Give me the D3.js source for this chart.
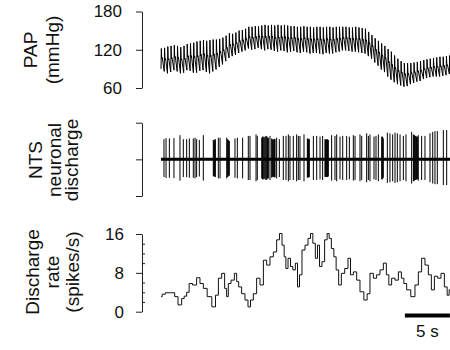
<!DOCTYPE html>
<html><head><meta charset="utf-8">
<script src="https://cdn.jsdelivr.net/npm/d3@7"></script>
<style>
html,body{margin:0;padding:0;background:#fff;}
svg{display:block;font-family:"Liberation Sans",Arial,sans-serif;}
</style></head><body>
<svg id="chart" width="450" height="350"></svg>
<script>
// ---- Pulsatile arterial pressure, one systolic / diastolic pair per beat (mmHg) ----
const beatInterval = 0.36; // s
const papSystolic = [
  122,123,125,126,127,126,124,126,129,130,
  131,133,134,135,134,135,136,136,137,139,
  142,146,145,147,150,151,153,156,156,157,
  157,158,159,158,159,158,159,158,159,158,
  157,157,156,156,157,156,156,155,156,156,
  155,156,156,155,156,156,156,156,155,155,
  156,155,154,153,148,143,138,134,130,126,
  121,117,111,106,102,99,99,99,100,101,
  102,104,105,106,107,108,109,109,110,111
];
const papDiastolic = [
  90,86,83,85,88,86,83,84,88,87,
  84,84,87,88,85,83,86,89,93,97,
  102,107,110,112,115,117,119,122,120,121,
  123,121,119,121,120,118,117,119,118,116,
  117,118,116,115,117,116,114,115,115,114,
  113,115,114,114,116,117,119,119,118,117,
  117,116,115,114,110,106,100,95,89,85,
  78,73,69,66,64,62,63,66,68,70,
  71,74,76,77,78,78,78,79,80,82
];
const papTicks = [60, 120, 180];

// ---- NTS unit: spike times (s) and relative spike amplitude ----
const spikeTimes = [
  0.33,0.56,0.93,1.44,2.11,2.48,2.85,3.15,3.59,3.78,3.96,4.26,4.70,
  5.81,5.87,5.93,5.98,6.04,6.37,6.56,7.30,7.40,7.48,7.54,7.59,8.22,8.48,9.07,
  9.70,9.89,10.56,10.70,11.19,11.28,11.37,11.47,11.56,11.65,11.74,11.84,11.93,
  12.11,12.30,12.35,12.41,12.48,12.56,12.62,12.67,12.85,13.15,13.59,13.89,14.15,
  14.33,14.70,15.07,15.26,15.44,15.89,16.26,16.31,16.37,16.42,16.48,16.93,17.30,
  17.67,17.96,18.22,18.27,18.33,18.40,18.48,18.53,18.59,18.96,19.33,19.52,19.89,
  20.19,20.63,20.93,21.37,21.56,22.11,22.30,22.85,23.04,23.22,23.67,23.89,24.15,
  24.52,24.58,24.63,24.70,25.15,25.44,25.74,26.00,26.26,26.56,26.93,27.22,27.85,
  28.04,28.09,28.15,28.22,28.30,28.36,28.41,28.49,28.59,28.96,29.33,29.89,30.19,
  30.44,30.70,31.37,31.74
];
const spikeAmps = [
  0.55,0.58,0.57,0.58,0.66,0.55,0.55,0.57,0.57,0.59,0.55,0.53,0.66,
  0.53,0.52,0.50,0.54,0.55,0.59,0.59,0.59,0.55,0.53,0.51,0.50,0.57,0.59,0.59,
  0.64,0.64,0.68,0.64,0.59,0.62,0.62,0.60,0.62,0.63,0.64,0.60,0.59,
  0.64,0.57,0.55,0.53,0.55,0.53,0.56,0.55,0.59,0.55,0.64,0.64,0.68,
  0.64,0.64,0.68,0.64,0.64,0.68,0.57,0.56,0.55,0.56,0.55,0.64,0.64,
  0.62,0.64,0.55,0.54,0.53,0.55,0.55,0.53,0.53,0.66,0.64,0.68,0.62,
  0.64,0.64,0.62,0.66,0.64,0.68,0.64,0.71,0.64,0.68,0.62,0.64,0.68,
  0.62,0.60,0.62,0.57,0.73,0.71,0.68,0.73,0.71,0.68,0.64,0.68,0.75,
  0.68,0.66,0.66,0.64,0.64,0.62,0.62,0.62,0.66,0.64,0.64,0.71,0.75,
  0.77,0.77,0.80,0.80
];

// ---- Instantaneous discharge rate (spikes/s) ----
const rateTime = [
  0.00,0.26,0.70,1.37,1.67,2.11,2.48,2.67,3.03,3.22,3.78,4.14,4.52,4.89,5.37,5.92,6.19,6.56,6.92,7.22,
  7.37,7.59,7.97,8.33,8.48,8.78,9.14,9.52,9.81,10.08,10.44,10.81,11.19,11.56,11.92,12.30,12.67,13.03,13.30,13.59,
  13.78,13.97,14.26,14.52,14.78,15.08,15.26,15.52,15.81,16.19,16.48,16.74,17.00,17.30,17.48,17.74,18.03,18.33,18.59,18.78,
  19.08,19.33,19.59,19.89,20.19,20.63,20.92,21.19,21.56,21.92,22.30,22.78,23.03,23.41,23.78,24.14,24.52,24.89,25.19,25.44,
  25.81,26.19,26.56,26.86,27.11,27.48,28.03,28.41,28.78,29.14,29.52,29.89,30.19,30.56,30.92,31.30,31.67,31.92,32.11
];
const rateValue = [
  3.1,3.6,3.9,3.9,3.1,1.4,2.7,3.2,4.0,5.8,5.5,7.0,5.8,4.8,3.1,1.0,3.4,6.9,7.9,4.8,
  3.1,5.8,6.5,7.9,6.2,5.1,3.7,2.4,1.0,2.4,3.7,6.9,5.5,10.6,9.6,11.3,12.3,14.8,16.1,13.7,
  11.3,8.9,11.0,9.3,8.6,10.0,5.1,7.6,12.7,13.7,15.1,16.1,14.1,11.0,13.7,9.3,10.3,14.8,16.1,15.1,
  13.0,11.3,8.6,5.5,7.9,8.9,11.0,7.6,8.2,6.5,4.1,2.4,3.7,7.9,6.9,7.6,8.6,10.0,7.6,5.5,
  6.9,6.5,8.2,6.9,5.8,4.5,3.1,5.5,8.2,11.0,9.6,7.6,4.5,7.3,6.9,7.9,5.1,3.4,4.5
];
const rateTicks = [0, 8, 16];
const rateMinorTicks = [2, 4, 6, 10, 12, 14];

const scaleBarSeconds = 5;

// ---------------------------------------------------------------------------
const svg = d3.select("#chart");
const ink = "#111";

const x = d3.scaleLinear().domain([0, 32.2]).range([161, 450.8]);
const yPap = d3.scaleLinear().domain([60, 180]).range([88, 11.5]);
const yNts = d3.scaleLinear().domain([-1, 1]).range([196, 122.7]);
const yRate = d3.scaleLinear().domain([0, 16]).range([311.7, 234]);
const axisX = 142;

svg.append("clipPath").attr("id", "plotClip")
  .append("rect").attr("x", x(0) - 1).attr("y", 0).attr("width", 450 - x(0) + 1).attr("height", 350);

function styleAxis(g, fontSize) {
  g.selectAll("path, line").attr("stroke", "#222").attr("stroke-width", 1);
  g.selectAll("text").attr("fill", ink).attr("font-size", fontSize)
    .attr("font-family", "'Liberation Sans', Arial, sans-serif");
}

// ---- Axes ----
svg.append("g").attr("transform", `translate(${axisX},0)`)
  .call(d3.axisLeft(yPap).tickValues(papTicks).tickSize(6).tickSizeOuter(0).tickPadding(14))
  .call(g => styleAxis(g, 17));

svg.append("g").attr("transform", `translate(${axisX},0)`)
  .call(d3.axisLeft(yNts).tickValues([-1, 0, 1]).tickFormat("").tickSize(6).tickSizeOuter(0))
  .call(g => styleAxis(g, 17));

svg.append("g").attr("transform", `translate(${axisX},0)`)
  .call(d3.axisLeft(yRate).tickValues(rateTicks).tickSize(6).tickSizeOuter(0).tickPadding(12))
  .call(g => styleAxis(g, 17));

svg.append("g").attr("transform", `translate(${axisX},0)`)
  .call(d3.axisRight(yRate).tickValues(rateMinorTicks).tickFormat("").tickSize(3))
  .call(g => { g.select(".domain").remove(); styleAxis(g, 17); });

// ---- Axis titles (rotated, one line each) ----
function title(lines, cy) {
  const g = svg.append("g").attr("font-size", 19).attr("fill", ink).attr("text-anchor", "middle");
  lines.forEach(([txt, bx]) => {
    g.append("text").attr("transform", `translate(${bx},${cy}) rotate(-90)`).text(txt);
  });
}
title([["PAP", 37], ["(mmHg)", 59]], 50);
title([["NTS", 41.5], ["neuronal", 61], ["discharge", 78]], 160);
title([["Discharge", 39], ["rate", 59], ["(spikes/s)", 79]], 272);

// ---- PAP waveform: fast upstroke, quick fall to the notch, slow run-off ----
const papPoints = [];
papSystolic.forEach((sys, i) => {
  const t0 = i * beatInterval;
  const dia = papDiastolic[i];
  papPoints.push([t0, dia]);
  papPoints.push([t0 + 0.1 * beatInterval, sys]);
  papPoints.push([t0 + 0.24 * beatInterval, dia + 0.5 * (sys - dia)]);
  papPoints.push([t0 + 0.4 * beatInterval, dia + 0.55 * (sys - dia)]);
});
papPoints.push([papSystolic.length * beatInterval, papDiastolic[papDiastolic.length - 1]]);

svg.append("path")
  .attr("clip-path", "url(#plotClip)")
  .attr("d", d3.line().x(d => x(d[0])).y(d => yPap(d[1]))(papPoints))
  .attr("fill", "none").attr("stroke", "#000").attr("stroke-width", 1);

// ---- NTS unit recording ----
svg.append("line")
  .attr("x1", x(0)).attr("x2", x(32.2)).attr("y1", yNts(0)).attr("y2", yNts(0))
  .attr("stroke", "#000").attr("stroke-width", 3);

svg.append("g").attr("clip-path", "url(#plotClip)")
  .selectAll("line").data(spikeTimes).join("line")
  .attr("x1", d => x(d)).attr("x2", d => x(d))
  .attr("y1", (d, i) => yNts(-0.88 * spikeAmps[i]))
  .attr("y2", (d, i) => yNts(spikeAmps[i]))
  .attr("stroke", "#000").attr("stroke-width", 1);

// ---- Discharge rate (binned, drawn as steps) ----
svg.append("path")
  .attr("d", d3.line().curve(d3.curveStep).x((d, i) => x(rateTime[i])).y(d => yRate(d))(rateValue))
  .attr("fill", "none").attr("stroke", ink).attr("stroke-width", 1);

// ---- Time scale bar ----
const barEnd = 32.1;
svg.append("line")
  .attr("x1", x(barEnd - scaleBarSeconds)).attr("x2", x(barEnd))
  .attr("y1", 315.5).attr("y2", 315.5)
  .attr("stroke", "#000").attr("stroke-width", 4);
svg.append("text")
  .attr("x", x(barEnd - scaleBarSeconds / 2)).attr("y", 337)
  .attr("text-anchor", "middle").attr("font-size", 17).attr("fill", ink)
  .text(`${scaleBarSeconds} s`);
</script>
</body></html>
